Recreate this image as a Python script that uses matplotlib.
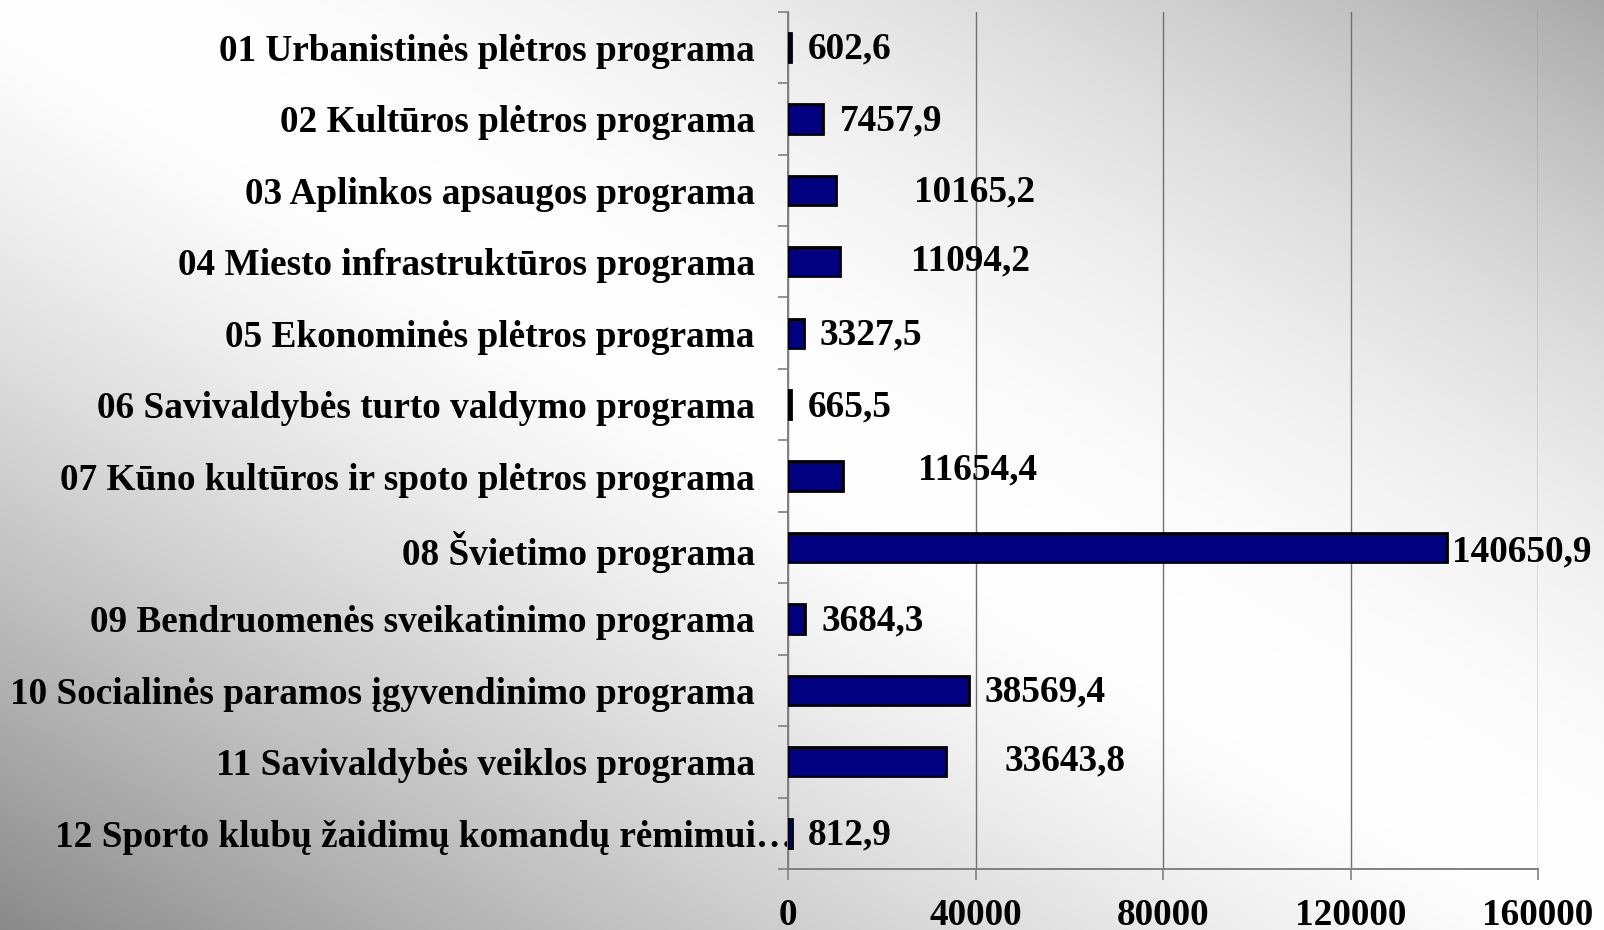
import numpy as np
import matplotlib
matplotlib.use("Agg")
import matplotlib.pyplot as plt
import matplotlib.transforms as mtransforms

# ---- data ----
categories = [
    "01 Urbanistinės plėtros programa",
    "02 Kultūros plėtros programa",
    "03 Aplinkos apsaugos programa",
    "04 Miesto infrastruktūros programa",
    "05 Ekonominės plėtros programa",
    "06 Savivaldybės turto valdymo programa",
    "07 Kūno kultūros ir spoto plėtros programa",
    "08 Švietimo programa",
    "09 Bendruomenės sveikatinimo programa",
    "10 Socialinės paramos įgyvendinimo programa",
    "11 Savivaldybės veiklos programa",
    "12 Sporto klubų žaidimų komandų rėmimui…",
]
values = [602.6, 7457.9, 10165.2, 11094.2, 3327.5, 665.5,
          11654.4, 140650.9, 3684.3, 38569.4, 33643.8, 812.9]
value_labels = ["602,6", "7457,9", "10165,2", "11094,2", "3327,5", "665,5",
                "11654,4", "140650,9", "3684,3", "38569,4", "33643,8", "812,9"]
xticks = [0, 40000, 80000, 120000, 160000]
xtick_labels = ["0", "40000", "80000", "120000", "160000"]

# ---- layout (label offsets in pixels) ----
label_dx = [17, 17, 78, 71, 16, 17, 75, 5, 16, 16, 59, 16]
label_dy = [-2, -2, -2, 1, -2, -2, 6, -4, -2, -2, 1, -2]

W, H = 1604, 930
fig = plt.figure(figsize=(W / 100, H / 100), dpi=100)

# background gradient
bg = fig.add_axes([0, 0, 1, 1], zorder=-10)
yy, xx = np.mgrid[0:H, 0:W]
t = xx / W - yy / H
g = np.where(t >= 0, 255 - 87 * np.abs(t) ** 1.9, 255 - 117 * np.abs(t) ** 1.3) / 255.0
bg.imshow(np.dstack([g, g, g]), aspect="auto", extent=[0, 1, 0, 1], origin="upper")
bg.axis("off")

ax = fig.add_axes([788 / W, 1 - 869 / H, (1538 - 788) / W, (869 - 11.7) / H])
ax.patch.set_alpha(0)

font = "Liberation Serif"
fs = 26.8
y = np.arange(len(categories))
ax.barh(y, values, height=0.41, color="#000080", edgecolor="black", linewidth=2.0, zorder=3)

ax.set_xlim(0, 160000)
ax.set_ylim(len(categories) - 0.5, -0.5)

ax.set_xticks(xticks)
ax.set_xticklabels(xtick_labels, fontfamily=font, fontweight="bold", fontsize=fs)
ax.set_yticks(y)
ax.set_yticklabels(categories, fontfamily=font, fontweight="bold", fontsize=fs)
ax.set_yticks(np.arange(-0.5, len(categories) + 0.5, 1), minor=True)
ax.tick_params(axis="y", which="major", length=0, pad=24)
ax.tick_params(axis="y", which="minor", length=7.5, color="#808080", width=1.2)
ax.tick_params(axis="x", which="major", length=8, color="#808080", width=1.2, pad=13)

# last (truncated) label sits closer to the axis in the reference
last = ax.get_yticklabels()[-1]
last.set_transform(last.get_transform() +
                   mtransforms.ScaledTranslation(39 / 100, 0, fig.dpi_scale_trans))

ax.grid(axis="x", color="#707070", linewidth=1.0, zorder=0)
for s in ["top", "right"]:
    ax.spines[s].set_visible(False)
for s in ["left", "bottom"]:
    ax.spines[s].set_color("#808080")
    ax.spines[s].set_linewidth(1.4)

for i, (v, lab) in enumerate(zip(values, value_labels)):
    ax.annotate(lab, xy=(v, i), xytext=(label_dx[i], label_dy[i]),
                textcoords="offset pixels", ha="left", va="center",
                fontfamily=font, fontweight="bold", fontsize=fs, zorder=5,
                annotation_clip=False)

fig.savefig("out.png", dpi=100)
